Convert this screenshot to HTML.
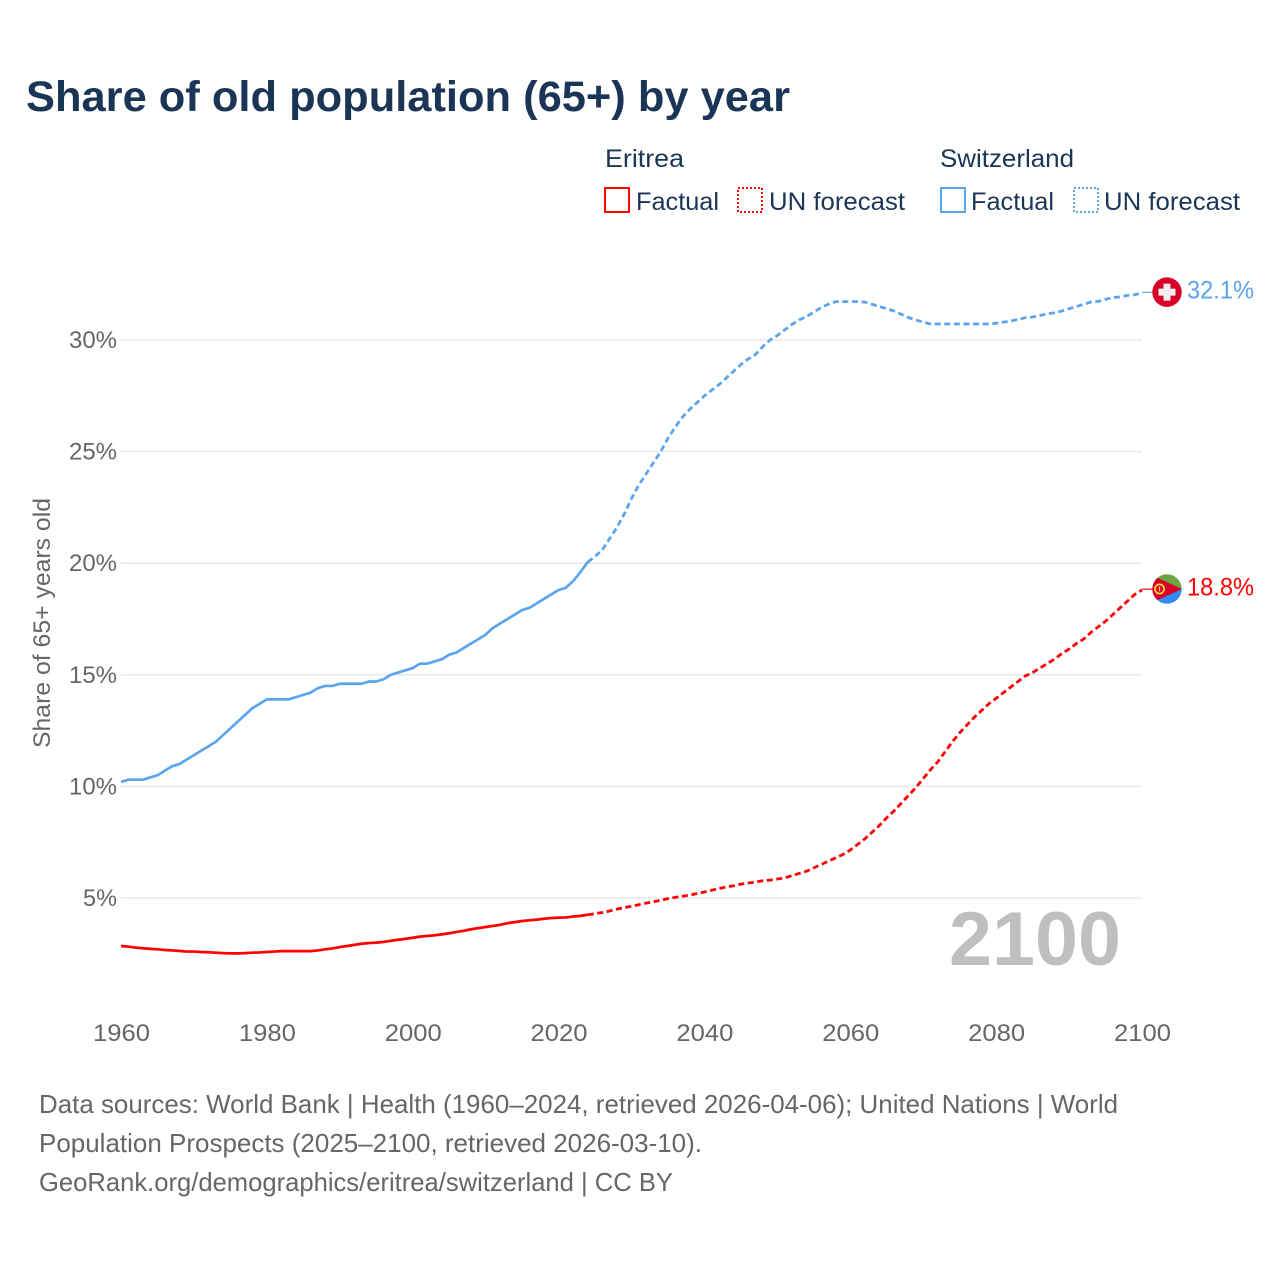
<!DOCTYPE html>
<html lang="en">
<head>
<meta charset="utf-8">
<title>Share of old population (65+) by year</title>
<style>
html,body{margin:0;padding:0;background:#fff}
svg{display:block}
text{font-family:"Liberation Sans",sans-serif}
</style>
</head>
<body>
<svg id="chart" xmlns="http://www.w3.org/2000/svg" width="1280" height="1280" viewBox="0 0 1280 1280">
  <rect width="1280" height="1280" fill="#fff"/>
  <text x="26" y="111" font-size="43" font-weight="700" fill="#1a3556" textLength="764" lengthAdjust="spacingAndGlyphs">Share of old population (65+) by year</text>

  <g font-size="25" fill="#1a3556">
    <text x="605" y="167" textLength="79" lengthAdjust="spacingAndGlyphs">Eritrea</text>
    <rect x="605" y="188" width="24" height="24" fill="none" stroke="#ff0000" stroke-width="2"/>
    <text x="636" y="210" textLength="83" lengthAdjust="spacingAndGlyphs">Factual</text>
    <rect x="738" y="188" width="24" height="24" fill="none" stroke="#ff0000" stroke-width="2" stroke-dasharray="2 2"/>
    <text x="769" y="210" textLength="136" lengthAdjust="spacingAndGlyphs">UN forecast</text>
    <text x="940" y="167" textLength="134" lengthAdjust="spacingAndGlyphs">Switzerland</text>
    <rect x="941" y="188" width="24" height="24" fill="none" stroke="#5ba4ee" stroke-width="2"/>
    <text x="971" y="210" textLength="83" lengthAdjust="spacingAndGlyphs">Factual</text>
    <rect x="1074" y="188" width="24" height="24" fill="none" stroke="#5ba4ee" stroke-width="2" stroke-dasharray="2 2"/>
    <text x="1104" y="210" textLength="136" lengthAdjust="spacingAndGlyphs">UN forecast</text>
  </g>

  <g id="grid"></g>
  <g id="yticks" font-size="24" fill="#666"></g>
  <g id="xticks" font-size="24" fill="#666"></g>
  <text transform="translate(50,623) rotate(-90)" text-anchor="middle" font-size="24" fill="#666" textLength="250" lengthAdjust="spacingAndGlyphs">Share of 65+ years old</text>

  <text x="949" y="965" font-size="76" font-weight="700" fill="#bfbfbf" textLength="172" lengthAdjust="spacingAndGlyphs">2100</text>

  <g id="series"></g>

  <defs>
    <clipPath id="flag-clip"><circle cx="0" cy="0" r="14.7"/></clipPath>
  </defs>
  <g id="flag-ch">
    <circle r="14.7" fill="#d80027"/>
    <rect x="-8.5" y="-3.5" width="17" height="7" fill="#f0f0f0"/>
    <rect x="-3.5" y="-8.5" width="7" height="17" fill="#f0f0f0"/>
  </g>
  <g id="flag-er">
    <g clip-path="url(#flag-clip)">
      <rect x="-15" y="-15" width="30" height="15" fill="#6da544"/>
      <rect x="-15" y="0" width="30" height="15" fill="#338af3"/>
      <polygon points="-16,-14 15,0 -16,14" fill="#d80027"/>
      <circle cx="-7.5" cy="0" r="4.6" fill="none" stroke="#ffda44" stroke-width="1.7"/>
      <rect x="-8.1" y="-2.4" width="1.2" height="4.8" fill="#ffda44"/>
    </g>
  </g>
  <text id="value-ch" x="1187" font-size="25" fill="#5ba4ee" textLength="67" lengthAdjust="spacingAndGlyphs"></text>
  <text id="value-er" x="1187" font-size="25" fill="#ff0000" textLength="67" lengthAdjust="spacingAndGlyphs"></text>

  <g font-size="26" fill="#666">
    <text x="39" y="1113" textLength="1079" lengthAdjust="spacingAndGlyphs">Data sources: World Bank | Health (1960–2024, retrieved 2026-04-06); United Nations | World</text>
    <text x="39" y="1152" textLength="663" lengthAdjust="spacingAndGlyphs">Population Prospects (2025–2100, retrieved 2026-03-10).</text>
    <text x="39" y="1191" textLength="634" lengthAdjust="spacingAndGlyphs">GeoRank.org/demographics/eritrea/switzerland | CC BY</text>
  </g>
</svg>
<script>
const xTickYears = [1960, 1980, 2000, 2020, 2040, 2060, 2080, 2100];
const yTickValues = [5, 10, 15, 20, 25, 30];
const factualStartYear = 1960;
const forecastStartYear = 2024;

const switzerlandFactual = [
  10.2,10.3,10.3,10.3,10.4,10.5,10.7,10.9,11.0,11.2,
  11.4,11.6,11.8,12.0,12.3,12.6,12.9,13.2,13.5,13.7,
  13.9,13.9,13.9,13.9,14.0,14.1,14.2,14.4,14.5,14.5,
  14.6,14.6,14.6,14.6,14.7,14.7,14.8,15.0,15.1,15.2,
  15.3,15.5,15.5,15.6,15.7,15.9,16.0,16.2,16.4,16.6,
  16.8,17.1,17.3,17.5,17.7,17.9,18.0,18.2,18.4,18.6,
  18.8,18.9,19.2,19.6,20.05
];
const switzerlandForecast = [
  20.05,
  20.3,20.6,21.1,21.6,22.2,
  22.9,23.5,24.0,24.5,25.0,25.6,26.1,26.55,26.9,27.2,
  27.5,27.75,28.0,28.3,28.6,28.9,29.15,29.35,29.7,30.0,
  30.2,30.45,30.7,30.9,31.05,31.25,31.45,31.6,31.72,31.72,
  31.72,31.72,31.7,31.6,31.5,31.4,31.3,31.15,31.0,30.9,
  30.8,30.72,30.72,30.72,30.72,30.72,30.72,30.72,30.72,30.72,
  30.75,30.8,30.85,30.92,31.0,31.03,31.1,31.17,31.22,31.3,
  31.4,31.5,31.6,31.7,31.73,31.82,31.9,31.93,32.0,32.03,
  32.1
];
const eritreaFactual = [
  2.85,2.82,2.78,2.75,2.72,2.7,2.67,2.65,2.63,2.6,
  2.6,2.58,2.57,2.55,2.53,2.52,2.52,2.53,2.55,2.56,
  2.58,2.6,2.62,2.62,2.62,2.62,2.62,2.65,2.7,2.74,
  2.8,2.85,2.9,2.95,2.98,3.0,3.03,3.08,3.13,3.17,
  3.22,3.27,3.3,3.33,3.37,3.42,3.48,3.53,3.6,3.65,
  3.7,3.75,3.8,3.87,3.92,3.97,4.0,4.03,4.07,4.1,
  4.12,4.13,4.17,4.2,4.25
];
const eritreaForecast = [
  4.25,
  4.3,4.35,4.42,4.5,4.57,
  4.63,4.7,4.77,4.83,4.9,4.97,5.03,5.08,5.13,5.2,
  5.27,5.35,5.42,5.5,5.55,5.62,5.67,5.72,5.77,5.8,
  5.85,5.9,6.0,6.1,6.2,6.35,6.5,6.65,6.8,6.95,
  7.15,7.4,7.65,7.95,8.25,8.6,8.9,9.25,9.6,9.95,
  10.35,10.75,11.1,11.55,12.0,12.4,12.75,13.1,13.4,13.7,
  13.95,14.2,14.45,14.7,14.95,15.1,15.3,15.5,15.7,15.95,
  16.15,16.4,16.6,16.9,17.15,17.4,17.7,18.0,18.3,18.6,
  18.8
];

const NS = 'http://www.w3.org/2000/svg';
const X0 = 121, X1 = 1142, Y_ZERO = 1009.6, Y_PER_UNIT = 22.32;
function xScale(year) { return X0 + (year - 1960) * (X1 - X0) / 140; }
function yScale(value) { return Y_ZERO - value * Y_PER_UNIT; }
function linePath(values, startYear) {
  return values.map(function (v, i) {
    return (i ? 'L' : 'M') + xScale(startYear + i).toFixed(2) + ' ' + yScale(v).toFixed(2);
  }).join(' ');
}

const grid = document.getElementById('grid');
const yticks = document.getElementById('yticks');
const xticks = document.getElementById('xticks');
const series = document.getElementById('series');

yTickValues.forEach(function (v) {
  const line = document.createElementNS(NS, 'line');
  
  
  line.setAttribute('x1', X0);
  line.setAttribute('x2', X1);
  line.setAttribute('y1', yScale(v));
  line.setAttribute('y2', yScale(v));
  line.setAttribute('stroke', '#e8e8e8');
  line.setAttribute('stroke-width', '1.5');
  grid.appendChild(line);

  const label = document.createElementNS(NS, 'text');
  
  
  const str = v + '%';
  const w = str.length === 2 ? 34 : 48;
  label.setAttribute('x', 117 - w);
  label.setAttribute('y', yScale(v) + 8);
  label.setAttribute('textLength', w);
  label.setAttribute('lengthAdjust', 'spacingAndGlyphs');
  label.textContent = str;
  yticks.appendChild(label);
});

xTickYears.forEach(function (yr) {
  const label = document.createElementNS(NS, 'text');
  
  
  label.setAttribute('x', xScale(yr) + 0.5 - 28.5);
  label.setAttribute('y', 1041);
  label.setAttribute('textLength', 57);
  label.setAttribute('lengthAdjust', 'spacingAndGlyphs');
  label.textContent = String(yr);
  xticks.appendChild(label);
});

function addLine(name, values, startYear, color, dashed) {
  const p = document.createElementNS(NS, 'path');
  
  
  p.setAttribute('d', linePath(values, startYear));
  p.setAttribute('fill', 'none');
  p.setAttribute('stroke', color);
  p.setAttribute('stroke-width', dashed ? '2.8' : '2.7');
  p.setAttribute('stroke-linejoin', 'round');
  if (dashed) p.setAttribute('stroke-dasharray', '6 3.6');
  series.appendChild(p);
}
addLine('eritrea-factual-line', eritreaFactual, factualStartYear, '#ff0000', false);
addLine('eritrea-forecast-line', eritreaForecast, forecastStartYear, '#ff0000', true);
addLine('switzerland-factual-line', switzerlandFactual, factualStartYear, '#5ba4ee', false);
addLine('switzerland-forecast-line', switzerlandForecast, forecastStartYear, '#5ba4ee', true);

function addEnd(lineName, flagId, valueId, values, color) {
  const last = values[values.length - 1];
  const y = yScale(last);
  const connector = document.createElementNS(NS, 'line');
  
  
  connector.setAttribute('x1', X1);
  connector.setAttribute('x2', 1153);
  connector.setAttribute('y1', y - 0.8);
  connector.setAttribute('y2', y - 0.8);
  connector.setAttribute('stroke', color);
  connector.setAttribute('stroke-width', '1.2');
  series.appendChild(connector);
  document.getElementById(flagId).setAttribute('transform', 'translate(1167,' + (y - 1) + ')');
  const t = document.getElementById(valueId);
  t.setAttribute('y', y + 5.5);
  t.textContent = last.toFixed(1) + '%';
}
addEnd('switzerland-end-connector', 'flag-ch', 'value-ch', switzerlandForecast, '#5ba4ee');
addEnd('eritrea-end-connector', 'flag-er', 'value-er', eritreaForecast, '#ff0000');
</script>
</body>
</html>
